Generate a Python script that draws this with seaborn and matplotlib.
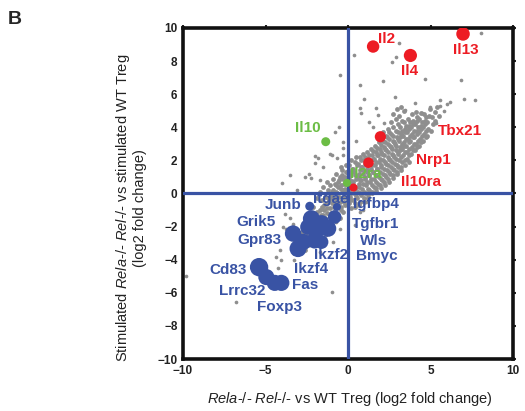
import numpy as np
import pandas as pd
import matplotlib
matplotlib.use('Agg')
import matplotlib.pyplot as plt
import seaborn as sns

# %%
# highlighted genes (x: Rela/Rel vs WT, y: stimulated Rela/Rel vs stimulated WT)
up_genes = ['Il2', 'Il4', 'Il13', 'Tbx21', 'Nrp1', 'Il10ra']
up_x = [1.52, 3.78, 6.97, 1.96, 1.24, 0.33]
up_y = [8.88, 8.34, 9.64, 3.43, 1.86, 0.36]

green_genes = ['Il10', 'Il2ra']
green_x = [-1.35, -0.06]
green_y = [3.13, 0.64]

down_x = [-2.32, -0.67, -0.81, -2.22, -1.61, -1.21, -1.92, -3.33, -2.73, -2.02,
          -3.03, -1.61, -2.42, -5.39, -4.95, -4.44, -4.04]
down_y = [-0.77, -0.81, -1.42, -1.52, -1.82, -2.12, -2.22, -2.42, -2.93, -2.83,
          -3.33, -2.93, -2.02, -4.45, -5.05, -5.40, -5.40]
down_genes = ['Junb', 'Itgae', 'Igfbp4', 'Grik5', 'Tgfbr1', 'Gpr83', 'Wls', 'Ikzf2',
              'Bmyc', 'Cd83', 'Ikzf4', 'Fas', 'Lrrc32', 'Foxp3']

# all other genes: the dense band ...
gray_core = [
    (-3.3, -3.6), (-3.1, -3.2), (-3.0, -2.7), (-2.9, -3.4), (-2.8, -2.3), (-2.7, -2.9),
    (-2.6, -2.0), (-2.55, -2.5), (-2.45, -3.1), (-2.4, -1.7), (-2.3, -2.2), (-2.2, -2.7),
    (-2.15, -1.4), (-2.05, -1.9), (-2.0, -2.4), (-1.9, -1.1), (-1.85, -1.6), (-1.8, -2.1),
    (-1.7, -2.6), (-1.65, -1.3), (-1.6, -0.8), (-1.55, -1.8), (-1.45, -1.0), (-1.4, -1.5),
    (-1.35, -2.0), (-1.3, -0.6), (-1.25, -1.2), (-1.2, -0.3), (-1.15, -1.7), (-1.1, -0.9),
    (-1.05, -0.1), (-1.0, -1.4), (-0.95, -0.6), (-0.9, 0.2), (-0.85, -1.1), (-0.8, -0.3),
    (-0.75, 0.5), (-0.7, -0.8), (-0.65, 0.0), (-0.6, -1.3), (-0.55, 0.8), (-0.5, -0.5),
    (-0.45, 0.3), (-0.4, -1.0), (-0.35, 1.1), (-0.3, -0.2), (-0.25, 0.6), (-0.2, -0.7),
    (-0.15, 1.3), (-0.1, 0.1), (-0.05, 0.9), (-0.02, -0.4),
    (-1.5, 0.4), (-1.3, 0.7), (-1.1, 0.5), (-0.9, 0.9), (-0.7, 1.2), (-0.6, 0.4),
    (-0.4, 1.6), (-0.3, 0.9), (-0.2, 0.3), (-0.1, 1.7), (-1.7, 0.1), (-1.9, -0.3),
    (-2.1, -0.8), (-2.3, -1.2), (-2.5, -1.5), (-2.6, -3.4), (-2.0, -3.0), (-1.6, -2.3),
    (-1.2, -2.1), (-0.9, -1.6), (-0.5, -1.5), (-0.3, -1.1),
    (-3.2, -2.9), (-2.95, -3.0), (-2.85, -2.6), (-2.75, -2.1), (-2.65, -2.7), (-2.5, -2.2),
    (-2.35, -1.9), (-2.25, -2.5), (-2.1, -1.6), (-1.95, -2.2), (-1.9, -1.4), (-1.75, -1.85),
    (-1.7, -1.0), (-1.5, -1.3), (-1.45, -0.7), (-1.35, -1.7), (-1.25, -0.9), (-1.15, -0.4),
    (-1.05, -1.2), (-0.95, -0.3), (-0.85, -0.8), (-0.75, 0.1), (-0.7, -0.5), (-0.6, 0.7),
    (-0.55, -0.2), (-0.45, -0.8), (-0.4, 0.5), (-0.3, 0.2), (-0.25, -0.5), (-0.15, 0.6),
    (-0.1, -0.2), (-0.05, 1.3), (-0.5, 1.0), (-0.8, 0.6), (-1.0, 0.1), (-1.2, 0.2),
    (-1.4, -0.2), (-1.6, -0.4), (-0.35, 1.4), (-0.2, 1.0),
    (0.05, -0.6), (0.1, -0.2), (0.05, 0.2), (0.12, 0.5), (0.03, 0.9), (0.15, 1.3), (0.08, 1.7), (0.2, -0.9),
    (0.3, -0.4), (0.35, 0.0), (0.28, 0.7), (0.4, 1.1), (0.33, 1.5), (0.45, 1.9), (0.42, -0.8), (0.5, 0.4),
    (0.55, -0.3), (0.6, 0.1), (0.65, 0.6), (0.58, 1.0), (0.7, 1.4), (0.62, 1.8), (0.72, 2.2), (0.68, -0.7),
    (0.8, -0.1), (0.85, 0.3), (0.78, 0.8), (0.9, 1.2), (0.83, 1.6), (0.95, 2.0), (0.88, 2.4), (0.97, -0.5),
    (1.05, 0.0), (1.1, 0.5), (1.02, 0.9), (1.15, 1.3), (1.08, 1.7), (1.2, 2.1), (1.12, 2.5), (1.22, -0.3),
    (1.3, 0.2), (1.35, 0.7), (1.28, 1.1), (1.4, 1.5), (1.33, 1.9), (1.45, 2.3), (1.38, 2.7), (1.48, 0.0),
    (1.55, 0.4), (1.6, 0.9), (1.53, 1.3), (1.65, 1.7), (1.58, 2.1), (1.7, 2.5), (1.63, 2.9), (1.72, 0.15),
    (1.8, 0.6), (1.85, 1.0), (1.78, 1.5), (1.9, 1.9), (1.83, 2.3), (1.95, 2.7), (1.88, 3.1), (1.97, 0.35), (1.85, 3.6),
    (2.05, 0.8), (2.1, 1.2), (2.02, 1.6), (2.15, 2.0), (2.08, 2.4), (2.2, 2.8), (2.12, 3.2), (2.22, 0.5), (2.15, 3.7),
    (2.3, 1.0), (2.35, 1.4), (2.28, 1.8), (2.4, 2.2), (2.33, 2.6), (2.45, 3.0), (2.38, 3.4), (2.48, 0.7), (2.4, 3.9),
    (2.55, 1.2), (2.6, 1.6), (2.53, 2.0), (2.65, 2.4), (2.58, 2.8), (2.7, 3.2), (2.63, 3.6), (2.72, 0.95), (2.6, 4.3), (2.75, 4.8),
    (2.8, 1.4), (2.85, 1.8), (2.78, 2.2), (2.9, 2.6), (2.83, 3.0), (2.95, 3.4), (2.88, 3.8), (2.97, 1.15), (2.9, 4.5), (2.95, 5.1),
    (3.05, 1.6), (3.1, 2.0), (3.02, 2.4), (3.15, 2.8), (3.08, 3.2), (3.2, 3.6), (3.12, 4.0), (3.22, 1.4), (3.1, 4.7), (3.2, 5.2),
    (3.3, 1.9), (3.35, 2.3), (3.28, 2.7), (3.4, 3.1), (3.33, 3.5), (3.45, 3.9), (3.38, 4.3), (3.48, 1.7), (3.4, 5.0),
    (3.55, 2.1), (3.6, 2.5), (3.53, 2.9), (3.65, 3.3), (3.58, 3.7), (3.7, 4.1), (3.63, 4.5), (3.72, 1.9),
    (3.8, 2.4), (3.85, 2.8), (3.78, 3.2), (3.9, 3.6), (3.83, 4.0), (3.95, 4.4), (3.88, 4.8),
    (4.05, 2.6), (4.1, 3.0), (4.02, 3.4), (4.15, 3.8), (4.08, 4.2), (4.2, 4.6), (4.12, 4.9),
    (4.3, 2.9), (4.35, 3.3), (4.28, 3.7), (4.4, 4.1), (4.33, 4.5), (4.45, 4.85),
    (4.55, 3.2), (4.6, 3.6), (4.53, 4.0), (4.65, 4.4), (4.58, 4.8),
    (4.8, 3.5), (4.85, 3.9), (4.78, 4.3), (4.9, 4.7), (4.95, 5.1),
    (5.05, 3.8), (5.15, 4.2), (5.1, 4.6), (5.3, 4.4), (5.25, 4.9), (5.4, 5.2), (5.5, 4.7),
    (0.15, -0.4), (0.2, 0.0), (0.18, 0.35), (0.22, 0.75), (0.1, 1.1), (0.25, 1.5), (0.2, 2.0),
    (0.45, -0.6), (0.48, -0.15), (0.4, 0.25), (0.47, 0.9), (0.38, 1.3), (0.52, 1.7), (0.5, 2.2),
    (0.7, -0.5), (0.72, 0.0), (0.68, 0.4), (0.75, 0.8), (0.66, 1.2), (0.78, 1.6), (0.8, 2.0),
    (0.95, -0.3), (0.98, 0.1), (0.92, 0.55), (1.0, 1.0), (0.93, 1.4), (1.0, 1.8), (1.0, 2.2),
    (1.2, -0.1), (1.22, 0.3), (1.18, 0.7), (1.25, 1.1), (1.17, 1.5), (1.27, 1.9), (1.25, 2.35),
    (1.45, 0.1), (1.47, 0.5), (1.42, 0.9), (1.5, 1.3), (1.43, 1.7), (1.52, 2.1), (1.5, 2.55),
    (1.7, 0.35), (1.72, 0.7), (1.67, 1.1), (1.75, 1.5), (1.68, 1.9), (1.77, 2.3), (1.75, 2.75),
    (1.95, 0.5), (1.97, 0.9), (1.92, 1.3), (2.0, 1.7), (1.93, 2.1), (2.02, 2.5), (2.0, 2.95), (1.95, 3.35),
    (2.2, 0.7), (2.22, 1.1), (2.17, 1.5), (2.25, 1.9), (2.18, 2.3), (2.27, 2.7), (2.25, 3.1), (2.3, 3.5),
    (2.45, 0.9), (2.47, 1.3), (2.42, 1.7), (2.5, 2.1), (2.43, 2.5), (2.52, 2.9), (2.5, 3.3), (2.5, 3.7),
    (2.7, 1.1), (2.72, 1.5), (2.67, 1.9), (2.75, 2.3), (2.68, 2.7), (2.77, 3.1), (2.75, 3.5), (2.75, 4.0),
    (2.95, 1.3), (2.97, 1.7), (2.92, 2.1), (3.0, 2.5), (2.93, 2.9), (3.02, 3.3), (3.0, 3.7), (3.0, 4.2),
    (3.2, 1.6), (3.22, 2.2), (3.17, 2.6), (3.25, 3.0), (3.18, 3.4), (3.27, 3.8), (3.25, 4.4),
    (3.45, 2.0), (3.47, 2.5), (3.42, 2.9), (3.5, 3.3), (3.43, 3.7), (3.52, 4.1),
    (3.7, 2.3), (3.72, 2.7), (3.67, 3.1), (3.75, 3.5), (3.68, 3.9), (3.77, 4.3),
    (3.95, 2.6), (3.97, 3.0), (3.92, 3.4), (4.0, 3.8), (3.93, 4.2),
    (4.2, 2.8), (4.22, 3.2), (4.17, 3.6), (4.25, 4.0), (4.18, 4.4),
    (4.45, 3.1), (4.47, 3.5), (4.42, 3.9), (4.5, 4.3),
    (4.7, 3.4), (4.72, 3.8), (4.67, 4.2), (4.75, 4.6),
]

# ... and the scattered ones around it
gray_scatter = [
    (5.6, 5.3), (5.8, 5.0), (6.0, 5.4),
    (-9.84, -4.99), (-6.8, -6.53), (-0.95, -5.94), (-4.24, -4.5), (-4.04, -4.04), (-4.34, -3.84),
    (-3.84, -1.21), (-3.53, -1.5), (-3.33, -1.82), (-3.73, -2.12), (-3.95, -2.0), (-4.1, -3.4),
    (-3.3, -4.0), (-1.31, -2.53), (-0.91, -2.93), (-0.5, -2.12), (-0.7, -1.72), (-1.72, -3.54),
    (0.4, -1.92), (0.71, -1.11), (0.9, -1.0), (1.1, -0.5),
    (-0.46, 7.13), (-0.55, 4.0), (-0.81, 3.73), (-0.3, 3.13), (-2.02, 2.26), (-1.82, 2.16),
    (-1.11, 2.36), (-2.02, 1.86), (-1.52, 1.61), (-0.67, 2.12), (-0.3, 2.76), (-3.53, 1.11),
    (-3.98, 0.64), (-3.09, 0.24), (-2.36, 1.15), (-2.22, 0.91), (-1.72, 0.81), (-2.62, 1.0),
    (-0.3, 2.3), (-1.0, 2.32),
    (0.36, 8.38), (0.71, 6.56), (2.12, 6.8), (2.83, 5.86), (4.04, 5.45), (4.68, 6.92),
    (6.87, 6.87), (7.01, 5.7), (7.68, 5.65), (8.04, 9.7), (3.09, 9.09), (2.69, 7.94),
    (2.93, 8.22), (0.99, 5.7), (1.68, 5.15), (0.71, 5.17), (1.8, 4.74), (0.81, 4.85),
    (2.2, 4.24), (1.3, 4.34), (5.56, 5.65), (6.16, 5.55), (4.95, 5.25), (4.5, 4.85),
    (3.44, 5.05), (5.36, 4.24), (1.5, 4.0), (0.5, 3.2),
]

# %%
# sizes / label placement (layout only)
up_size = [80, 90, 95, 65, 58, 34]
green_size = [42, 34]
down_size = [42, 34, 95, 150, 150, 140, 140, 140, 140, 140, 150, 100, 130, 175, 135, 135, 135]

label_xy = {
    'Il2': (2.33, 9.33), 'Il4': (3.74, 7.41), 'Il13': (7.13, 8.68), 'Tbx21': (6.81, 3.79),
    'Nrp1': (5.19, 2.02), 'Il10ra': (4.45, 0.67), 'Il10': (-2.42, 3.98), 'Il2ra': (1.07, 1.17),
    'Junb': (-3.94, -0.71), 'Itgae': (-1.05, -0.35), 'Igfbp4': (1.72, -0.65), 'Grik5': (-5.55, -1.72),
    'Tgfbr1': (1.68, -1.86), 'Gpr83': (-5.39, -2.83), 'Wls': (1.56, -2.87), 'Ikzf2': (-1.05, -3.74),
    'Bmyc': (1.72, -3.80), 'Cd83': (-7.27, -4.65), 'Ikzf4': (-2.22, -4.55), 'Fas': (-2.62, -5.50),
    'Lrrc32': (-6.4, -5.92), 'Foxp3': (-4.18, -6.83),
}

red = '#ED1C24'
green = '#6CBD45'
blue = '#3953A4'
gray = '#8E8E8E'

# %%
sns.set_style('white')
plt.rcParams['font.family'] = ['Liberation Sans', 'DejaVu Sans']
plt.rcParams['mathtext.fontset'] = 'custom'
plt.rcParams['mathtext.rm'] = 'Liberation Sans'
plt.rcParams['mathtext.it'] = 'Liberation Sans:italic'

fig = plt.figure(figsize=(5.25, 4.11), dpi=100)
ax = fig.add_axes([0.3486, 0.1265, 0.6286, 0.8054])

core_df = pd.DataFrame(gray_core, columns=['x', 'y'])
scat_df = pd.DataFrame(gray_scatter, columns=['x', 'y'])
sns.scatterplot(data=core_df, x='x', y='y', ax=ax, color=gray, s=12, linewidth=0, zorder=2)
sns.scatterplot(data=scat_df, x='x', y='y', ax=ax, color=gray, s=7, linewidth=0, zorder=2)

ax.axvline(0, color=blue, lw=2.3, zorder=3)
ax.axhline(0, color=blue, lw=2.3, zorder=3)

sns.scatterplot(x=down_x, y=down_y, ax=ax, color=blue, s=down_size, linewidth=0, zorder=4)
sns.scatterplot(x=up_x, y=up_y, ax=ax, color=red, s=up_size, linewidth=0, zorder=4)
sns.scatterplot(x=green_x, y=green_y, ax=ax, color=green, s=green_size, linewidth=0, zorder=4)

for genes, col in [(up_genes, red), (green_genes, green), (down_genes, blue)]:
    for g in genes:
        lx, ly = label_xy[g]
        # Itgae sits in the gray cloud, drawn just above it
        z = 2.5 if g == 'Itgae' else 5
        ax.text(lx, ly, g, color=col, fontsize=11, fontweight='bold',
                ha='center', va='center', zorder=z)

ax.set_xlim(-10, 10)
ax.set_ylim(-10, 10)
ax.set_xticks([-10, -5, 0, 5, 10])
ax.set_yticks(np.arange(-10, 11, 2))
ax.set_xticklabels(['\u221210', '\u22125', '0', '5', '10'])
ax.set_yticklabels(['\u221210', '\u22128', '\u22126', '\u22124', '\u22122', '0', '2', '4', '6', '8', '10'])
ax.tick_params(direction='out', length=2.5, width=1.5, top=True, right=True,
               labelsize=8.5, pad=1.5, colors='#222222')
for lab in ax.get_xticklabels() + ax.get_yticklabels():
    lab.set_fontweight('bold')
for sp in ax.spines.values():
    sp.set_linewidth(2.6)
    sp.set_color('#111111')

ax.set_xlabel(r'$\it{Rela}$-/- $\it{Rel}$-/- vs WT Treg (log2 fold change)', fontsize=10.5, color='#222222')
ax.xaxis.set_label_coords(0.506, -0.095)
ax.set_ylabel('Stimulated $\\it{Rela}$-/- $\\it{Rel}$-/- vs stimulated WT Treg\n(log2 fold change)',
              fontsize=10.5, color='#222222', linespacing=1.1)
ax.yaxis.set_label_coords(-0.11, 0.456)

fig.text(0.014, 0.952, 'B', fontsize=14, fontweight='bold', va='center')

fig.savefig('out.png', dpi=100)
